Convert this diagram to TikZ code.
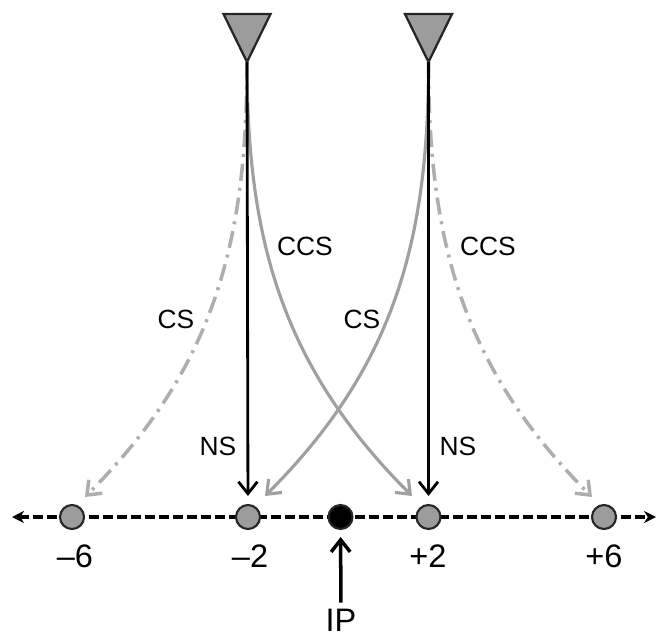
\documentclass[tikz,border=0pt]{standalone}
\usepackage{fontspec}
\setmainfont{Liberation Sans}
\usetikzlibrary{arrows.meta}
\definecolor{sitegrey}{HTML}{9C9C9C}
\definecolor{pathgrey}{HTML}{A0A0A0}
\definecolor{dashgrey}{HTML}{AEAEAE}
\begin{document}
\begin{tikzpicture}[
  lbl/.style={font=\fontsize{15}{18}\selectfont},
  axlbl/.style={font=\fontsize{18.5}{22}\selectfont},
  site/.style={circle,draw=black!85,fill=sitegrey,line width=1.2pt,minimum size=0.48cm,inner sep=0pt},
  ipsite/.style={site,fill=black},
  antenna/.style={draw=black!85,fill=sitegrey,line width=1.3pt,line join=miter},
  axisline/.style={line width=2pt,dash pattern=on 0.19cm off 0.09cm,{Stealth[length=2.4mm,width=2.4mm]}-{Stealth[length=2.4mm,width=2.4mm]}},
  nsarrow/.style={line width=1.6pt,-{Straight Barb[length=2.4mm,width=3.8mm]}},
  ccsarrow/.style={pathgrey,line width=1.8pt,-{Straight Barb[length=2.4mm,width=3.8mm]}},
  dcsarrow/.style={dashgrey,line width=2pt,dash pattern=on 3.4mm off 1.4mm on 0.6mm off 1.4mm,-{Straight Barb[length=2.4mm,width=3.8mm]}},
  iparrow/.style={line width=2pt,-{Straight Barb[length=2.4mm,width=3.8mm]}}
]
\useasboundingbox (0,0) rectangle (13.14,12.72);
% axis
\coordinate (axL) at (0.24,2.38);
\coordinate (axR) at (13.12,2.38);
\draw[axisline] (axL) -- (axR);
\node[site] (m6) at (1.44,2.38) {};
\node[site] (m2) at (4.96,2.38) {};
\node[ipsite] (ipdot) at (6.81,2.38) {};
\node[site] (p2) at (8.57,2.38) {};
\node[site] (p6) at (12.08,2.38) {};
\node[axlbl] at (1.5,1.6) {--6};
\node[axlbl] at (5.0,1.6) {--2};
\node[axlbl] at (8.56,1.6) {+2};
\node[axlbl] at (12.08,1.6) {+6};
% IP
\node[axlbl] (iplab) at (6.82,0.32) {IP};
\draw[iparrow,shorten <=0.0cm,shorten >=0.14cm] (iplab) -- (ipdot);
% antennas
\coordinate (antL) at (4.94,11.48);
\coordinate (antR) at (8.57,11.48);
\draw[antenna] (antL) -- ++(-0.47,0.96) -- ++(0.94,0) -- cycle;
\draw[antenna] (antR) -- ++(-0.47,0.96) -- ++(0.94,0) -- cycle;
% end points of the grey paths
\coordinate (csLend) at (1.70,2.78);
\coordinate (ccsLend) at (8.24,2.80);
\coordinate (csRend) at (5.30,2.80);
\coordinate (ccsRend) at (11.84,2.78);
% paths
\draw[dcsarrow] (antL) to[out=-90,in=45] (csLend);
\draw[dcsarrow] (antR) to[out=-90,in=135] (ccsRend);
\draw[ccsarrow] (antL) to[out=-90,in=135] (ccsLend);
\draw[ccsarrow] (antR) to[out=-90,in=45] (csRend);
\draw[nsarrow,shorten >=0.16cm] (antL) -- (m2);
\draw[nsarrow,shorten >=0.16cm] (antR) -- (p2);
% labels
\node[lbl] at (6.1,7.8) {CCS};
\node[lbl] at (9.76,7.8) {CCS};
\node[lbl] at (3.52,6.34) {CS};
\node[lbl] at (7.24,6.34) {CS};
\node[lbl] at (4.36,3.8) {NS};
\node[lbl] at (9.16,3.8) {NS};
\end{tikzpicture}
\end{document}
